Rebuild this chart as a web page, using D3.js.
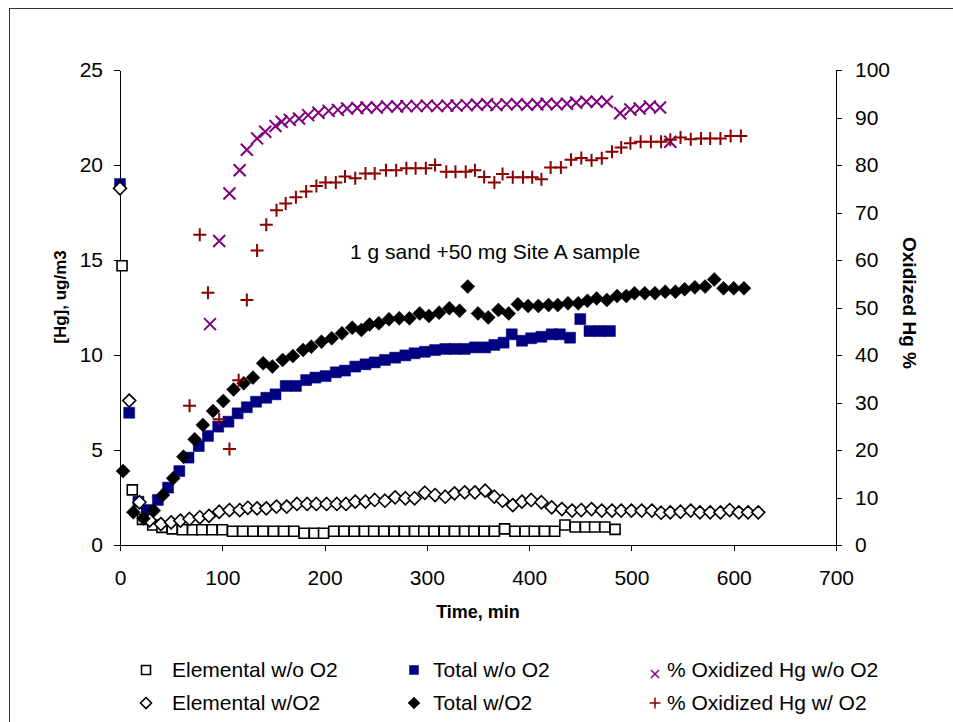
<!DOCTYPE html>
<html><head><meta charset="utf-8">
<script src="https://cdn.jsdelivr.net/npm/d3@7"></script>
<style>body{margin:0;background:#fff}text{font-family:"Liberation Sans",Arial,sans-serif;fill:#000}</style>
</head><body>
<svg id="c" width="953" height="722"></svg>
<script>
// ---- data: [time (min), value] ----
const elementalNoO2 = [[2,14.7],[12,2.9],[22,1.35],[32,1.05],[41,0.93],[51,0.85],[61,0.8],[71,0.8],[80,0.8],[90,0.8],[100,0.8],[110,0.72],[120,0.72],[130,0.72],[140,0.72],[150,0.72],[160,0.72],[170,0.72],[180,0.62],[190,0.62],[199,0.62],[209,0.72],[219,0.72],[229,0.72],[239,0.72],[248,0.72],[258,0.72],[268,0.72],[278,0.72],[288,0.72],[297,0.72],[307,0.72],[317,0.72],[327,0.72],[337,0.72],[346,0.72],[356,0.72],[366,0.72],[376,0.85],[386,0.72],[396,0.72],[405,0.72],[415,0.72],[425,0.72],[435,1.05],[445,0.95],[455,0.95],[464,0.95],[474,0.95],[484,0.82]];
const totalNoO2 = [[0,19.0],[9,6.96],[18,2.28],[26,1.84],[37,2.37],[47,3.02],[58,3.89],[67,4.6],[77,5.21],[86,5.74],[96,6.23],[106,6.49],[115,6.93],[124,7.25],[133,7.54],[143,7.75],[152,7.93],[162,8.37],[172,8.37],[182,8.68],[191,8.81],[201,8.89],[211,9.09],[220,9.18],[230,9.39],[240,9.51],[249,9.61],[259,9.74],[269,9.86],[279,9.98],[288,10.09],[298,10.17],[308,10.26],[318,10.32],[327,10.32],[337,10.32],[347,10.4],[357,10.4],[366,10.53],[375,10.65],[383,11.09],[393,10.75],[402,10.88],[412,10.96],[422,11.09],[430,11.09],[440,10.91],[450,11.89],[459,11.26],[469,11.26],[479,11.26]];
const oxidizedNoO2 = [[88,46.5],[97,64.0],[107,74.0],[117,78.9],[124,83.2],[134,85.6],[142,87.0],[152,88.2],[158,89.1],[166,89.5],[175,89.8],[184,90.5],[194,91.0],[204,91.4],[213,91.6],[222,91.9],[232,92.0],[241,92.1],[251,92.1],[261,92.3],[271,92.3],[280,92.4],[290,92.4],[300,92.5],[310,92.4],[320,92.5],[329,92.5],[339,92.6],[349,92.7],[359,92.8],[368,92.6],[378,92.8],[388,92.8],[398,92.7],[408,92.8],[417,92.9],[427,92.8],[437,92.9],[446,93.1],[456,93.3],[466,93.3],[476,93.3],[489,90.9],[499,91.7],[508,91.9],[518,92.3],[528,92.1],[538,84.9]];
const elementalO2 = [[0,18.77],[9,7.6],[19,2.25],[29,1.3],[40,1.1],[50,1.19],[59,1.28],[68,1.37],[78,1.46],[87,1.53],[97,1.75],[107,1.84],[117,1.84],[125,1.96],[134,1.93],[143,1.93],[153,2.02],[163,2.02],[173,2.16],[183,2.16],[192,2.16],[202,2.16],[212,2.16],[221,2.16],[230,2.28],[240,2.28],[249,2.37],[259,2.33],[269,2.51],[279,2.46],[288,2.46],[298,2.75],[308,2.63],[318,2.54],[327,2.72],[337,2.77],[347,2.77],[357,2.86],[366,2.54],[374,2.33],[384,2.1],[393,2.28],[402,2.37],[412,2.25],[422,1.98],[432,1.89],[442,1.81],[451,1.84],[461,1.89],[471,1.81],[481,1.81],[490,1.81],[500,1.81],[510,1.81],[520,1.81],[529,1.7],[538,1.72],[548,1.75],[558,1.81],[567,1.72],[577,1.72],[587,1.72],[596,1.84],[605,1.72],[614,1.72],[624,1.72]];
const totalO2 = [[3,3.89],[13,1.72],[23,1.4],[33,1.81],[42,2.63],[52,3.51],[62,4.65],[73,5.56],[81,6.32],[91,7.05],[101,7.58],[111,8.19],[121,8.51],[130,8.81],[140,9.56],[149,9.39],[159,9.74],[169,9.95],[179,10.26],[187,10.44],[197,10.7],[207,10.88],[217,11.14],[227,11.44],[236,11.32],[244,11.61],[253,11.67],[263,11.88],[273,11.93],[283,11.93],[293,12.19],[302,12.05],[312,12.23],[322,12.46],[332,12.33],[340,13.6],[350,12.19],[360,11.98],[370,12.37],[380,12.19],[389,12.67],[399,12.58],[409,12.58],[419,12.63],[428,12.63],[438,12.72],[448,12.72],[457,12.85],[466,12.98],[476,12.89],[486,13.1],[495,13.1],[503,13.25],[513,13.25],[523,13.25],[533,13.33],[543,13.33],[552,13.46],[562,13.56],[572,13.6],[581,13.98],[590,13.51],[600,13.51],[610,13.51]];
const oxidizedO2 = [[68,29.3],[78,65.3],[86,53.1],[97,26.5],[107,20.2],[116,34.7],[124,51.6],[134,62.0],[143,67.4],[153,70.5],[162,71.9],[172,73.2],[182,74.4],[192,75.6],[201,76.3],[211,76.3],[220,77.6],[230,77.2],[240,78.2],[249,78.2],[260,78.9],[270,78.9],[280,79.3],[289,79.3],[299,79.3],[308,80.0],[319,78.6],[328,78.6],[338,78.6],[347,78.9],[356,77.5],[366,76.3],[374,78.1],[384,77.4],[394,77.4],[403,77.4],[412,77.0],[421,79.5],[431,79.5],[441,81.1],[451,81.5],[461,81.0],[471,81.4],[481,82.8],[490,83.7],[499,84.6],[509,84.9],[519,84.9],[529,84.9],[538,85.3],[548,85.8],[558,85.4],[568,85.6],[577,85.6],[587,85.6],[597,86.1],[607,86.1]];

const xTicks = [0,100,200,300,400,500,600,700];
const yLeftTicks = [0,5,10,15,20,25];
const yRightTicks = [0,10,20,30,40,50,60,70,80,90,100];
const seriesNames = ["Elemental w/o O2","Total w/o O2","% Oxidized Hg w/o O2","Elemental w/O2","Total w/O2","% Oxidized Hg w/ O2"];
const annotationText = "1 g sand +50 mg Site A sample";

// ---- drawing ----
const svg = d3.select("#c");
svg.append("rect").attr("x",9.5).attr("y",8.5).attr("width",980).attr("height",760)
  .attr("fill","#fff").attr("stroke","#333").attr("stroke-width",1);

const x = d3.scaleLinear().domain([0,700]).range([120,836]);
const yL = d3.scaleLinear().domain([0,25]).range([545,70]);
const yR = d3.scaleLinear().domain([0,100]).range([545,70]);

const FS = 21;
function styleAxis(g){
  g.selectAll("path,line").attr("stroke","#000").attr("stroke-width",1).attr("shape-rendering","crispEdges");
  g.selectAll("text").attr("font-size",FS).attr("font-family",'"Liberation Sans",Arial,sans-serif').attr("fill","#000");
}
svg.append("g").attr("transform","translate(0,545)")
  .call(d3.axisBottom(x).tickValues(xTicks).tickSize(6).tickSizeOuter(0).tickPadding(19).tickFormat(d3.format("d")))
  .call(styleAxis);
svg.append("g").attr("transform","translate(120,0)")
  .call(d3.axisLeft(yL).tickValues(yLeftTicks).tickSize(6).tickSizeOuter(0).tickPadding(11).tickFormat(d3.format("d")))
  .call(styleAxis);
svg.append("g").attr("transform","translate(836,0)")
  .call(d3.axisRight(yR).tickValues(yRightTicks).tickSize(6).tickSizeOuter(0).tickPadding(13).tickFormat(d3.format("d")))
  .call(styleAxis);

const shapes = {
  square: s => `M${-s/2},${-s/2}h${s}v${s}h${-s}Z`,
  diamond: s => `M0,${-s/2}L${s/2},0L0,${s/2}L${-s/2},0Z`,
  cross: s => `M${-s/2},${-s/2}L${s/2},${s/2}M${-s/2},${s/2}L${s/2},${-s/2}`,
  plus: s => `M${-s/2},0H${s/2}M0,${-s/2}V${s/2}`
};
const series = [
  {data:elementalNoO2, y:yL, shape:"square", size:10, fill:"#fff", stroke:"#000", sw:1.6, ls:9},
  {data:totalNoO2, y:yL, shape:"square", size:11, fill:"#000080", stroke:"#000080", sw:0.5, ls:9},
  {data:oxidizedNoO2, y:yR, shape:"cross", size:12, fill:"none", stroke:"#800080", sw:2, ls:8},
  {data:elementalO2, y:yL, shape:"diamond", size:13, fill:"#fff", stroke:"#000", sw:1.6, ls:11},
  {data:totalO2, y:yL, shape:"diamond", size:14, fill:"#000", stroke:"#000", sw:0.5, ls:12},
  {data:oxidizedO2, y:yR, shape:"plus", size:13, fill:"none", stroke:"#8b0000", sw:2, ls:11}
];
series.forEach((s,i)=>{
  s.name = seriesNames[i];
  svg.append("g").selectAll("path").data(s.data).join("path")
    .attr("d", shapes[s.shape](s.size))
    .attr("transform", d=>`translate(${x(d[0])},${s.y(d[1])})`)
    .attr("fill", s.fill).attr("stroke", s.stroke).attr("stroke-width", s.sw);
});

// annotation
svg.append("text").attr("x",350).attr("y",259).attr("font-size",FS).text(annotationText);

// axis titles
svg.append("text").attr("transform","translate(66,297) rotate(-90)").attr("text-anchor","middle")
  .attr("font-size",17).attr("font-weight","bold").text("[Hg], ug/m3");
svg.append("text").attr("transform","translate(903,303) rotate(90)").attr("text-anchor","middle")
  .attr("font-size",19).attr("font-weight","bold").text("Oxidized Hg %");
svg.append("text").attr("x",478).attr("y",618).attr("text-anchor","middle")
  .attr("font-size",18).attr("font-weight","bold").text("Time, min");

// legend
const colX = [146,414,655], txtX = [172,433,667], rowY = [670,703];
series.forEach((s,i)=>{
  const c = i%3, r = Math.floor(i/3);
  const cy = rowY[r] + (s.shape==="cross" ? 4 : 0);
  svg.append("path").attr("d", shapes[s.shape](s.ls))
    .attr("transform",`translate(${colX[c]},${cy})`)
    .attr("fill", s.fill).attr("stroke", s.stroke).attr("stroke-width", s.shape==="cross"||s.shape==="plus"?1.5:s.sw);
  svg.append("text").attr("x",txtX[c]).attr("y",rowY[r]+7).attr("font-size",FS).text(s.name);
});
</script>
</body></html>
